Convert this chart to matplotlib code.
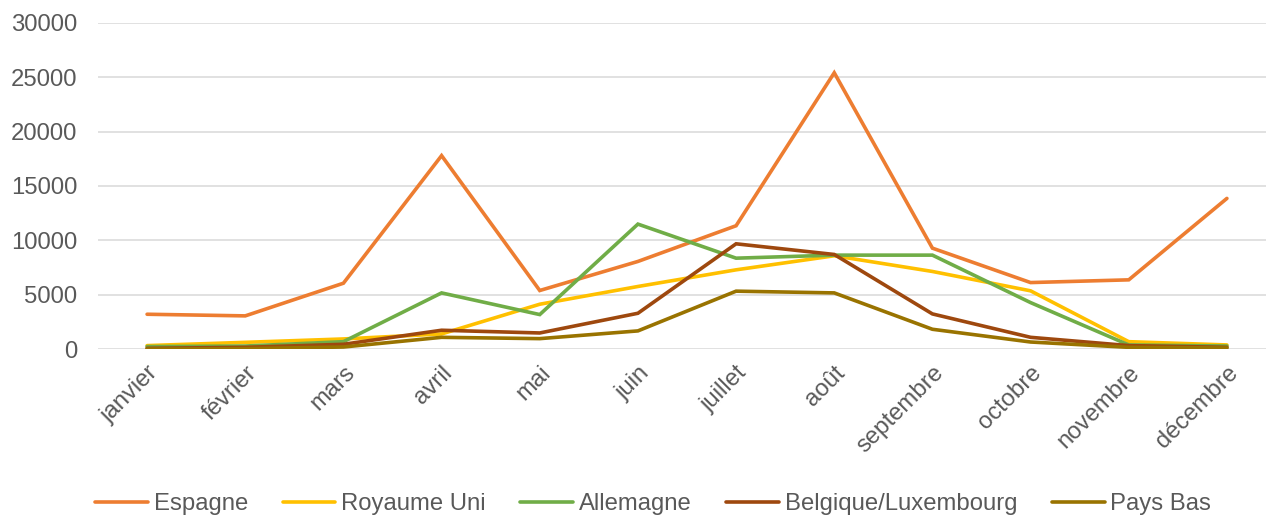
import numpy as np
import matplotlib
matplotlib.use('Agg')
import matplotlib.pyplot as plt

# données mensuelles par pays
mois = ['janvier', 'février', 'mars', 'avril', 'mai', 'juin', 'juillet',
        'août', 'septembre', 'octobre', 'novembre', 'décembre']
espagne = [3220, 3070, 6070, 17790, 5400, 8070, 11350, 25400, 9290, 6130, 6380, 13860]
royaume_uni = [340, 640, 950, 1410, 4140, 5770, 7300, 8590, 7150, 5370, 700, 400]
allemagne = [250, 300, 700, 5180, 3190, 11500, 8370, 8650, 8650, 4290, 400, 300]
belgique_lux = [90, 180, 460, 1750, 1500, 3310, 9690, 8710, 3250, 1100, 340, 180]
pays_bas = [30, 60, 210, 1100, 980, 1690, 5340, 5180, 1840, 670, 180, 120]

series = [
    ('Espagne', espagne, '#ED7D31'),
    ('Royaume Uni', royaume_uni, '#FFC000'),
    ('Allemagne', allemagne, '#70AD47'),
    ('Belgique/Luxembourg', belgique_lux, '#9E480E'),
    ('Pays Bas', pays_bas, '#997300'),
]

plt.rcParams['font.family'] = ['Liberation Sans', 'DejaVu Sans']

fig = plt.figure(figsize=(12.66, 5.15), dpi=100)
fig.set_facecolor('white')
ax = fig.add_axes([98 / 1266, 1 - 349.3 / 515, 1178 / 1266, (349.3 - 22.7) / 515])

x = np.arange(len(mois))
for nom, vals, col in series:
    ax.plot(x, vals, color=col, lw=2.6, label=nom, solid_capstyle='round', solid_joinstyle='miter')

ax.set_xlim(-0.5, 11.5)
ax.set_ylim(0, 30000)
ax.set_yticks(range(0, 30001, 5000))
ax.set_xticks(x)
ax.set_xticklabels(mois, rotation=45, ha='right', va='top', rotation_mode='anchor')
ax.tick_params(axis='both', length=0, labelsize=17.2, labelcolor='#595959')
ax.tick_params(axis='y', pad=15)
ax.tick_params(axis='x', pad=9)
ax.grid(True, axis='y', color='#D9D9D9', lw=1.1)
ax.set_axisbelow(True)
for s in ax.spines.values():
    s.set_visible(False)

fig.legend(loc='center', bbox_to_anchor=(0.516, 1 - 504 / 515), ncol=5, frameon=False,
           fontsize=17.2, labelcolor='#595959', handlelength=2.2, handletextpad=0.25,
           columnspacing=1.45)

fig.savefig('out.png', dpi=100)
